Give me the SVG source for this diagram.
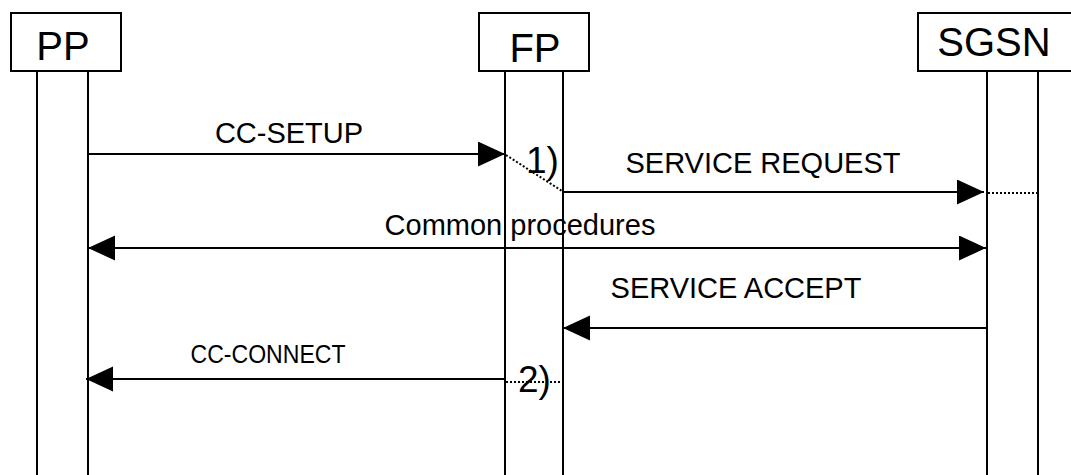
<svg xmlns="http://www.w3.org/2000/svg" width="1071" height="475" viewBox="0 0 1071 475">
<style>
.box{fill:#fff;stroke:#000;stroke-width:2}
.life{stroke:#000;stroke-width:2;fill:none}
.msg{stroke:#000;stroke-width:2;fill:none}
.dot{stroke:#000;stroke-width:2;stroke-dasharray:2,2;fill:none}
.title{font-family:"Liberation Sans",Arial,sans-serif;font-size:40px;text-anchor:middle;fill:#000}
.lbl{font-family:"Liberation Sans",Arial,sans-serif;font-size:29px;text-anchor:middle;fill:#000}
.note{font-family:"Liberation Sans",Arial,sans-serif;font-size:37px;fill:#000}
</style>
<defs>
<marker id="ah" markerUnits="userSpaceOnUse" markerWidth="28" markerHeight="26" refX="27" refY="12.5" orient="auto-start-reverse">
<path d="M0,0 L27,12.5 L0,25 z" fill="#000"/>
</marker>
</defs>
<rect width="1071" height="475" fill="#fff"/>
<g id="PP">
<rect class="box" x="11" y="13" width="110" height="58"/>
<text class="title" x="63" y="60">PP</text>
<line class="life" x1="37" y1="71" x2="37" y2="475"/>
<line class="life" x1="88" y1="71" x2="88" y2="475"/>
</g>
<g id="FP">
<rect class="box" x="479" y="13" width="110" height="58"/>
<text class="title" x="535" y="62">FP</text>
<line class="life" x1="505" y1="71" x2="505" y2="475"/>
<line class="life" x1="563" y1="71" x2="563" y2="475"/>
</g>
<g id="SGSN">
<rect class="box" x="918" y="13" width="200" height="58"/>
<text class="title" x="994" y="56">SGSN</text>
<line class="life" x1="987" y1="71" x2="987" y2="475"/>
<line class="life" x1="1038" y1="71" x2="1038" y2="475"/>
</g>
<g id="connectors">
<line class="msg" x1="88" y1="154" x2="505" y2="154" marker-end="url(#ah)"/>
<text class="lbl" x="289" y="143">CC-SETUP</text>
<line class="dot" x1="506" y1="155" x2="562" y2="191"/>
<text class="note" x="526" y="173">1)</text>
<line class="msg" x1="563" y1="192" x2="984" y2="192" marker-end="url(#ah)"/>
<text class="lbl" x="763" y="173">SERVICE REQUEST</text>
<line class="dot" x1="988" y1="193" x2="1037" y2="193"/>
<line class="msg" x1="88" y1="248" x2="986" y2="248" marker-start="url(#ah)" marker-end="url(#ah)"/>
<text class="lbl" x="520" y="235">Common procedures</text>
<line class="msg" x1="987" y1="328" x2="563" y2="328" marker-end="url(#ah)"/>
<text class="lbl" x="736" y="298">SERVICE ACCEPT</text>
<line class="msg" x1="505" y1="379" x2="86" y2="379" marker-end="url(#ah)"/>
<text class="lbl" x="268" y="363" style="font-size:26px" textLength="155" lengthAdjust="spacingAndGlyphs">CC-CONNECT</text>
<line class="dot" x1="506" y1="382" x2="562" y2="382"/>
<text class="note" x="518" y="392">2)</text>
</g>
</svg>
